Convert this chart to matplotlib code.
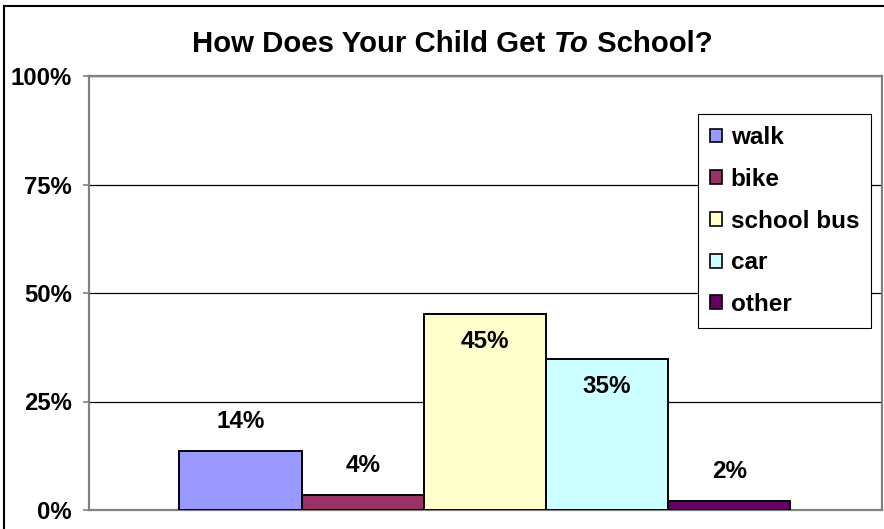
import matplotlib
matplotlib.use('Agg')
import matplotlib.pyplot as plt
from matplotlib.lines import Line2D
from matplotlib.patches import Patch

categories = ['walk', 'bike', 'school bus', 'car', 'other']
values = [13.6, 3.5, 45.2, 34.8, 2.1]
colors = ['#9999FF', '#993366', '#FFFFCC', '#CCFFFF', '#660066']
yticks = [0, 25, 50, 75, 100]
ytick_labels = ['0%', '25%', '50%', '75%', '100%']
title_parts = ['How Does Your Child Get ', 'To', ' School?']

plt.rcParams['font.family'] = ['Liberation Sans', 'DejaVu Sans']
plt.rcParams['font.weight'] = 'bold'

W, H = 884, 529
fig = plt.figure(figsize=(W / 100, H / 100), dpi=100)
ax = fig.add_axes([89 / W, 19 / H, 793 / W, 434 / H])

n = len(values)
xs = [i - (n - 1) / 2 for i in range(n)]
ax.bar(xs, values, width=1.0, color=colors, edgecolor='black', linewidth=1.4, zorder=3)

ax.set_xlim(-3.24, 3.25)
ax.set_ylim(0, 100)
ax.set_yticks(yticks)
ax.set_yticklabels(ytick_labels, fontsize=17.2, fontweight='bold')
ax.set_xticks([])
ax.tick_params(axis='y', length=4.5, width=1.2, color='#808080', pad=8)
ax.yaxis.grid(True, color='black', linewidth=0.9, zorder=0)
for s in ax.spines.values():
    s.set_color('#808080')
    s.set_linewidth(1.6)

for x, v in zip(xs, values):
    off = 21 if v < 25 else -20
    ax.annotate(f"{v:.0f}%", xy=(x, v), xytext=(0, off), textcoords='offset points',
                ha='center', va='center', fontsize=17.5, fontweight='bold', zorder=4)

handles = [Patch(facecolor=c, edgecolor='black', linewidth=1.2) for c in colors]
leg = fig.legend(handles, categories, loc='upper left', bbox_to_anchor=(698 / W, 1 - 114 / H),
                 frameon=True, fancybox=False, edgecolor='black', framealpha=1,
                 prop={'size': 17.5, 'weight': 'bold'}, handlelength=0.5, handleheight=0.5,
                 handletextpad=0.35, labelspacing=0.77, borderpad=0.5, borderaxespad=0)
leg.get_frame().set_linewidth(0.8)

# title with italic "To"
renderer = fig.canvas.get_renderer()
styles = ['normal', 'italic', 'normal']
texts = []
for part, st in zip(title_parts, styles):
    t = fig.text(0, 1 - 44 / H, part, fontsize=21.2, fontweight='bold', fontstyle=st,
                 ha='left', va='center')
    texts.append(t)
widths = [t.get_window_extent(renderer=renderer).width for t in texts]
total = sum(widths)
x0 = 452.5 - total / 2
for t, w in zip(texts, widths):
    t.set_x(x0 / W)
    x0 += w

# outer chart border
fig.add_artist(Line2D([4 / W, 4 / W], [0, 1 - 6 / H], color='black', linewidth=1.5))
fig.add_artist(Line2D([4 / W, 1], [1 - 6 / H, 1 - 6 / H], color='black', linewidth=1.5))

fig.savefig('out.png', dpi=100)
